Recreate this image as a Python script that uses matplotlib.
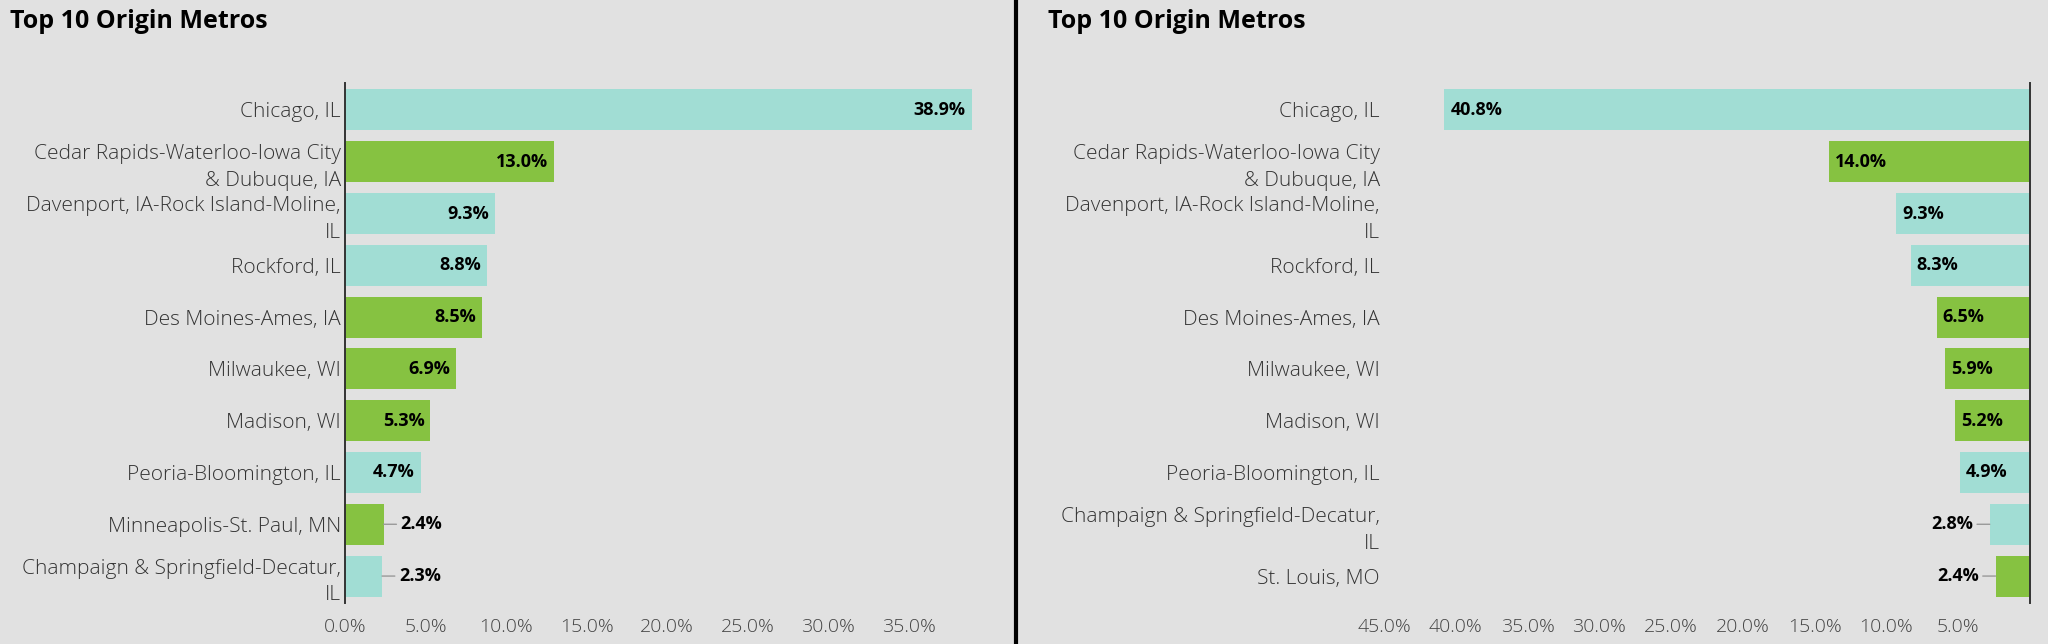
import matplotlib.pyplot as plt
from matplotlib.lines import Line2D

# data
left_metros = ["Chicago, IL", "Cedar Rapids-Waterloo-Iowa City\n& Dubuque, IA",
               "Davenport, IA-Rock Island-Moline,\nIL", "Rockford, IL", "Des Moines-Ames, IA",
               "Milwaukee, WI", "Madison, WI", "Peoria-Bloomington, IL",
               "Minneapolis-St. Paul, MN", "Champaign & Springfield-Decatur,\nIL"]
left_shares = [38.9, 13.0, 9.3, 8.8, 8.5, 6.9, 5.3, 4.7, 2.4, 2.3]

right_metros = ["Chicago, IL", "Cedar Rapids-Waterloo-Iowa City\n& Dubuque, IA",
                "Davenport, IA-Rock Island-Moline,\nIL", "Rockford, IL", "Des Moines-Ames, IA",
                "Milwaukee, WI", "Madison, WI", "Peoria-Bloomington, IL",
                "Champaign & Springfield-Decatur,\nIL", "St. Louis, MO"]
right_shares = [40.8, 14.0, 9.3, 8.3, 6.5, 5.9, 5.2, 4.9, 2.8, 2.4]

left_ticks = [0, 5, 10, 15, 20, 25, 30, 35]
right_ticks = [5, 10, 15, 20, 25, 30, 35, 40, 45]

TEAL = "#a1ddd4"
GREEN = "#86c241"
BG = "#e1e1e1"
FONT = "Open Sans"


def bar_color(name):
    return TEAL if name.endswith("IL") else GREEN


def draw_panel(ax, metros, shares, ticks, xlim, mirrored):
    y = list(range(len(metros)))
    ax.barh(y, shares, height=0.79, color=[bar_color(m) for m in metros],
            edgecolor="none", zorder=2)
    ax.set_xlim(*xlim)
    ax.set_ylim(len(metros) - 0.48, -0.52)
    ax.set_facecolor(BG)
    for s in ax.spines.values():
        s.set_visible(False)
    side = "right" if mirrored else "left"
    ax.spines[side].set_visible(True)
    ax.spines[side].set_color("#333333")
    ax.spines[side].set_linewidth(1.4)
    ax.spines[side].set_zorder(3)

    ax.set_yticks(y)
    ax.set_yticklabels(metros, fontsize=15, color="#333333", family=FONT,
                       fontweight="light", linespacing=1.45)
    ax.yaxis.set_ticks_position("left")
    ax.tick_params(axis="y", length=0, pad=3)

    ax.set_xticks(ticks)
    ax.set_xticklabels([f"{t:.1f}%" for t in ticks], fontsize=14, color="#444444",
                       family=FONT, fontweight="light")
    ax.tick_params(axis="x", length=0, pad=11)

    sign = -1 if mirrored else 1
    for i, v in enumerate(shares):
        txt = f"{v:.1f}%"
        if v >= 4:
            ax.annotate(txt, xy=(v, i), xytext=(-4.3 * sign, 0), textcoords="offset points",
                        ha="right" if not mirrored else "left", va="center",
                        fontsize=13, fontweight="bold", family=FONT, color="black", zorder=4)
        else:
            ax.annotate(txt, xy=(v, i), xytext=(12.2 * sign, 0), textcoords="offset points",
                        ha="left" if not mirrored else "right", va="center",
                        fontsize=13, fontweight="bold", family=FONT, color="black", zorder=4,
                        arrowprops=dict(arrowstyle="-", color="#999999", lw=1,
                                        shrinkA=1, shrinkB=0))


W, H = 2048, 644
fig = plt.figure(figsize=(W / 100, H / 100), dpi=100)
fig.patch.set_facecolor(BG)

ax_l = fig.add_axes([345 / W, 1 - 603 / H, 633 / W, 520 / H])
draw_panel(ax_l, left_metros, left_shares, left_ticks, (0, 39.3), False)

ax_r = fig.add_axes([1384 / W, 1 - 603 / H, 646 / W, 520 / H])
draw_panel(ax_r, right_metros, right_shares, right_ticks, (45, 0), True)

for x0 in (10, 1048):
    fig.text(x0 / W, 1 - 21 / H, "Top 10 Origin Metros", fontsize=18, fontweight="bold",
             family=FONT, color="black", va="center", ha="left")

fig.add_artist(Line2D([1016 / W, 1016 / W], [0, 1], color="black", lw=3))

fig.savefig("out.png", dpi=100, facecolor=BG)
